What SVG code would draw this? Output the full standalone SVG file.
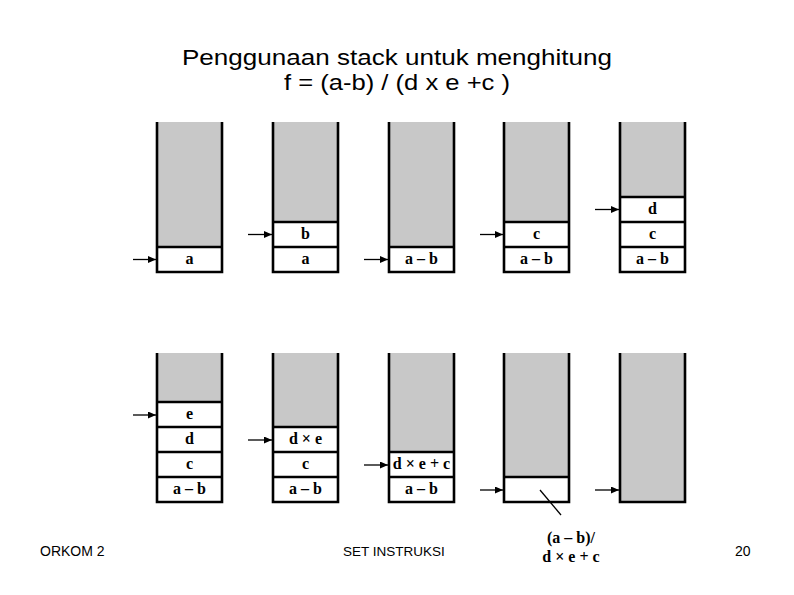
<svg xmlns="http://www.w3.org/2000/svg" width="794" height="595" viewBox="0 0 794 595">
<style>
.g{fill:#c8c8c8;stroke:none}
.w{fill:#fff;stroke:none}
.b{fill:none;stroke:#000;stroke-width:2.6}
.t{font-family:"Liberation Serif","Times New Roman",serif;font-weight:bold;font-size:16px;text-anchor:middle;fill:#000}
.h{font-family:"Liberation Sans",Arial,sans-serif;fill:#000}
.a{stroke:#000;stroke-width:1.3;fill:none}
</style>
<defs>
<marker id="ah" markerUnits="userSpaceOnUse" markerWidth="9" markerHeight="7" refX="8" refY="3.5" orient="auto">
<path d="M0,0 L8,3.5 L0,7 z" fill="#000"/>
</marker>
</defs>
<rect width="794" height="595" fill="#fff"/>
<g id="title">
<text class="h" x="397" y="65" font-size="22" text-anchor="middle" textLength="430" lengthAdjust="spacingAndGlyphs">Penggunaan stack untuk menghitung</text>
<text class="h" x="397" y="90" font-size="22" text-anchor="middle" textLength="226" lengthAdjust="spacingAndGlyphs">f = (a-b) / (d x e +c )</text>
</g>
<!-- top row -->
<g id="s1">
<rect class="g" x="157" y="122" width="65" height="125"/>
<rect class="w" x="157" y="247" width="65" height="25"/>
<path class="b" d="M157,122 V272 H222 V122 M157,247 H222"/>
<text class="t" x="189.5" y="264">a</text>
</g>
<g id="s2">
<rect class="g" x="273" y="122" width="65" height="100"/>
<rect class="w" x="273" y="222" width="65" height="50"/>
<path class="b" d="M273,122 V272 H338 V122 M273,222 H338 M273,247 H338"/>
<text class="t" x="305.5" y="239">b</text>
<text class="t" x="305.5" y="264">a</text>
</g>
<g id="s3">
<rect class="g" x="389" y="122" width="65" height="125"/>
<rect class="w" x="389" y="247" width="65" height="25"/>
<path class="b" d="M389,122 V272 H454 V122 M389,247 H454"/>
<text class="t" x="421.5" y="264">a – b</text>
</g>
<g id="s4">
<rect class="g" x="504" y="122" width="65" height="100"/>
<rect class="w" x="504" y="222" width="65" height="50"/>
<path class="b" d="M504,122 V272 H569 V122 M504,222 H569 M504,247 H569"/>
<text class="t" x="536.5" y="239">c</text>
<text class="t" x="536.5" y="264">a – b</text>
</g>
<g id="s5">
<rect class="g" x="620" y="122" width="65" height="75"/>
<rect class="w" x="620" y="197" width="65" height="75"/>
<path class="b" d="M620,122 V272 H685 V122 M620,197 H685 M620,222 H685 M620,247 H685"/>
<text class="t" x="652.5" y="214">d</text>
<text class="t" x="652.5" y="239">c</text>
<text class="t" x="652.5" y="264">a – b</text>
</g>
<!-- bottom row -->
<g id="s6">
<rect class="g" x="157" y="353" width="65" height="49"/>
<rect class="w" x="157" y="402" width="65" height="100"/>
<path class="b" d="M157,353 V502 H222 V353 M157,402 H222 M157,427 H222 M157,452 H222 M157,477 H222"/>
<text class="t" x="189.5" y="419">e</text>
<text class="t" x="189.5" y="444">d</text>
<text class="t" x="189.5" y="469">c</text>
<text class="t" x="189.5" y="494">a – b</text>
</g>
<g id="s7">
<rect class="g" x="273" y="353" width="65" height="74"/>
<rect class="w" x="273" y="427" width="65" height="75"/>
<path class="b" d="M273,353 V502 H338 V353 M273,427 H338 M273,452 H338 M273,477 H338"/>
<text class="t" x="305.5" y="444">d × e</text>
<text class="t" x="305.5" y="469">c</text>
<text class="t" x="305.5" y="494">a – b</text>
</g>
<g id="s8">
<rect class="g" x="389" y="353" width="65" height="99"/>
<rect class="w" x="389" y="452" width="65" height="50"/>
<path class="b" d="M389,353 V502 H454 V353 M389,452 H454 M389,477 H454"/>
<text class="t" x="421.5" y="469">d × e + c</text>
<text class="t" x="421.5" y="494">a – b</text>
</g>
<g id="s9">
<rect class="g" x="504" y="353" width="65" height="124"/>
<rect class="w" x="504" y="477" width="65" height="25"/>
<path class="b" d="M504,353 V502 H569 V353 M504,477 H569"/>
</g>
<g id="s10">
<rect class="g" x="620" y="353" width="65" height="149"/>
<path class="b" d="M620,353 V502 H685 V353"/>
</g>
<g id="result">
<text class="t" x="571" y="543">(a – b)/</text>
<text class="t" x="571" y="562">d × e + c</text>
</g>
<g id="connectors">
<line class="a" x1="133" y1="259.5" x2="156" y2="259.5" marker-end="url(#ah)"/>
<line class="a" x1="248" y1="234.5" x2="272" y2="234.5" marker-end="url(#ah)"/>
<line class="a" x1="364" y1="259.5" x2="388" y2="259.5" marker-end="url(#ah)"/>
<line class="a" x1="480" y1="234.5" x2="503" y2="234.5" marker-end="url(#ah)"/>
<line class="a" x1="595" y1="209.5" x2="619" y2="209.5" marker-end="url(#ah)"/>
<line class="a" x1="133" y1="415" x2="156" y2="415" stroke-width="1.8" marker-end="url(#ah)"/>
<line class="a" x1="248" y1="440" x2="272" y2="440" marker-end="url(#ah)"/>
<line class="a" x1="364" y1="465" x2="388" y2="465" marker-end="url(#ah)"/>
<line class="a" x1="480" y1="490" x2="503" y2="490" stroke-width="1.8" marker-end="url(#ah)"/>
<line class="a" x1="595" y1="490" x2="619" y2="490" stroke-width="1.8" marker-end="url(#ah)"/>
<line class="a" x1="540" y1="490" x2="561" y2="515" stroke-width="1"/>
</g>
<g id="footer">
<text class="h" x="40" y="556" font-size="14">ORKOM 2</text>
<text class="h" x="343" y="556" font-size="13.5">SET INSTRUKSI</text>
<text class="h" x="735" y="556" font-size="14">20</text>
</g>
</svg>
